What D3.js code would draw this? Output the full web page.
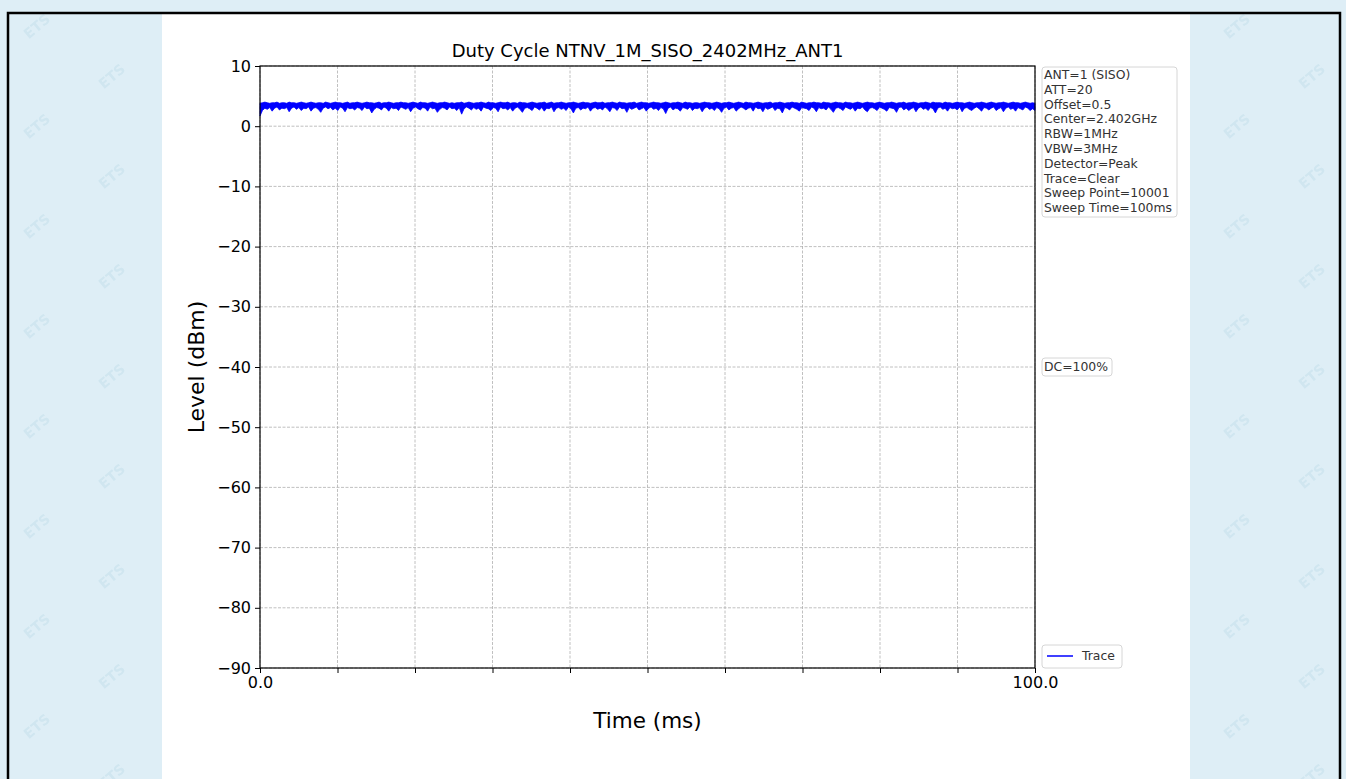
<!DOCTYPE html>
<html>
<head>
<meta charset="utf-8">
<script src="https://cdn.jsdelivr.net/npm/d3@7"></script>
<style>
  body { margin: 0; background: #deeef6; }
  svg { display: block; font-family: "DejaVu Sans", sans-serif; }
</style>
</head>
<body>
<svg></svg>
<script>
/* chart data */
const title = 'Duty Cycle NTNV_1M_SISO_2402MHz_ANT1';
const sweepTime = 100; // ms, whole x range
const yTicks = [10, 0, -10, -20, -30, -40, -50, -60, -70, -80, -90];
const xTicks = [0, 10, 20, 30, 40, 50, 60, 70, 80, 90, 100];
const xTickLabels = { 0: '0.0', 100: '100.0' };
const infoLines = ['ANT=1 (SISO)', 'ATT=20', 'Offset=0.5', 'Center=2.402GHz', 'RBW=1MHz',
  'VBW=3MHz', 'Detector=Peak', 'Trace=Clear', 'Sweep Point=10001', 'Sweep Time=100ms'];
const dcLabel = 'DC=100%';
// trace envelope (dBm): highest and lowest level in each
// of 320 equal slices of the sweep
const traceMax = [
  3.8, 3.9, 4.0, 3.9, 3.8, 3.9, 3.9, 4.0, 3.8, 3.9, 3.9, 3.8, 4.0, 3.9, 3.9, 3.8, 3.9, 4.0, 3.9, 3.8,
  3.9, 4.0, 3.9, 3.8, 3.9, 3.9, 3.8, 4.0, 3.9, 3.8, 3.9, 4.0, 3.9, 3.9, 3.8, 3.9, 4.0, 3.8, 3.9, 3.9,
  4.0, 3.9, 3.8, 3.9, 4.0, 3.9, 3.9, 3.8, 3.9, 4.0, 3.8, 3.9, 3.9, 4.0, 3.9, 3.8, 3.9, 3.9, 4.0, 3.9,
  3.9, 3.8, 3.9, 4.0, 3.9, 3.8, 4.0, 3.9, 3.9, 3.8, 3.9, 4.0, 3.9, 3.8, 3.9, 3.9, 4.0, 3.9, 3.8, 3.9,
  3.8, 3.9, 3.9, 4.0, 3.8, 3.9, 4.0, 3.9, 3.8, 3.9, 3.9, 4.0, 3.9, 3.8, 4.0, 3.9, 3.9, 3.8, 3.9, 4.0,
  3.9, 3.9, 4.0, 3.8, 3.9, 3.9, 3.8, 4.0, 3.9, 3.9, 3.8, 3.9, 4.0, 3.9, 3.8, 3.9, 3.9, 4.0, 3.8, 3.9,
  4.0, 3.8, 3.9, 3.9, 4.0, 3.9, 3.8, 3.9, 3.9, 4.0, 3.9, 3.8, 3.9, 4.0, 3.9, 3.9, 3.8, 3.9, 4.0, 3.9,
  3.9, 4.0, 3.8, 3.9, 3.9, 4.0, 3.9, 3.8, 4.0, 3.9, 3.9, 3.8, 3.9, 3.9, 4.0, 3.8, 3.9, 4.0, 3.9, 3.9,
  3.8, 3.9, 4.0, 3.9, 3.9, 3.8, 3.9, 4.0, 3.9, 3.8, 3.9, 3.9, 4.0, 3.9, 3.8, 4.0, 3.9, 3.9, 3.8, 3.9,
  3.9, 3.8, 3.9, 4.0, 3.9, 3.9, 3.8, 3.9, 4.0, 3.9, 3.8, 3.9, 3.9, 4.0, 3.9, 3.8, 3.9, 4.0, 3.9, 3.8,
  4.0, 3.9, 3.9, 3.8, 3.9, 4.0, 3.9, 3.8, 3.9, 3.9, 4.0, 3.8, 3.9, 3.9, 4.0, 3.9, 3.8, 3.9, 3.9, 4.0,
  3.9, 3.9, 3.8, 4.0, 3.9, 3.8, 3.9, 3.9, 4.0, 3.9, 3.9, 3.8, 4.0, 3.9, 3.9, 3.8, 3.9, 4.0, 3.9, 3.9,
  3.8, 4.0, 3.9, 3.9, 3.8, 3.9, 4.0, 3.9, 3.8, 3.9, 4.0, 3.9, 3.9, 3.8, 3.9, 4.0, 3.9, 3.8, 3.9, 3.9,
  4.0, 3.9, 3.8, 3.9, 3.9, 4.0, 3.8, 3.9, 3.9, 4.0, 3.9, 3.8, 3.9, 3.9, 4.0, 3.9, 3.8, 4.0, 3.9, 3.9,
  3.9, 3.8, 4.0, 3.9, 3.9, 3.8, 3.9, 4.0, 3.9, 3.9, 3.8, 3.9, 4.0, 3.9, 3.8, 3.9, 3.9, 4.0, 3.9, 3.8,
  3.9, 4.0, 3.9, 3.8, 3.9, 3.9, 4.0, 3.9, 3.8, 3.9, 4.0, 3.9, 3.9, 3.8, 3.9, 4.0, 3.9, 3.8, 3.9, 3.8
];
const traceMin = [
  1.7, 2.6, 3.0, 2.8, 3.1, 2.5, 3.0, 3.2, 2.7, 3.0, 2.9, 3.1, 2.4, 3.0, 3.2, 2.8, 3.1, 2.6, 3.0, 2.9,
  3.2, 2.5, 3.0, 3.1, 2.8, 2.3, 3.0, 3.2, 2.9, 3.1, 2.7, 3.0, 2.6, 3.2, 3.0, 2.4, 3.1, 2.9, 3.0, 2.7,
  3.1, 3.0, 2.6, 3.2, 2.9, 3.0, 2.2, 2.8, 3.1, 3.0, 2.7, 3.2, 3.0, 2.5, 3.1, 2.9, 3.0, 2.6, 3.2, 3.0,
  2.8, 3.1, 2.4, 3.0, 3.2, 2.9, 2.7, 3.1, 3.0, 2.5, 3.2, 2.9, 3.0, 2.3, 2.8, 3.1, 3.0, 2.7, 3.2, 2.9,
  3.0, 2.6, 3.1, 2.0, 2.9, 3.2, 3.0, 2.7, 3.1, 2.8, 3.0, 2.5, 3.2, 3.0, 2.9, 2.6, 3.1, 3.0, 2.4, 3.2,
  2.9, 3.0, 2.7, 3.1, 2.5, 3.0, 3.2, 2.8, 2.3, 3.0, 3.1, 2.9, 2.6, 3.2, 3.0, 2.7, 3.1, 2.5, 3.0, 2.9,
  3.2, 2.4, 3.0, 3.1, 2.8, 3.0, 2.6, 3.2, 2.9, 2.2, 3.0, 3.1, 2.7, 3.0, 2.9, 3.2, 2.5, 3.0, 3.1, 2.8,
  3.0, 2.7, 3.2, 2.9, 2.4, 3.1, 3.0, 2.6, 3.2, 2.9, 3.0, 2.3, 3.1, 2.8, 3.0, 3.2, 2.7, 2.9, 3.1, 2.5,
  3.0, 3.2, 2.8, 3.0, 2.6, 3.1, 2.9, 2.1, 3.0, 3.2, 2.7, 3.0, 2.9, 2.5, 3.1, 3.0, 2.8, 3.2, 2.6, 3.0,
  2.9, 3.1, 2.4, 3.0, 3.2, 2.8, 3.0, 2.6, 3.1, 2.9, 2.3, 3.0, 3.2, 2.7, 3.0, 3.1, 2.5, 2.9, 3.2, 3.0,
  2.7, 3.0, 3.1, 2.5, 3.2, 2.9, 3.0, 2.4, 3.1, 2.8, 3.0, 3.2, 2.6, 3.0, 2.9, 2.2, 3.1, 3.0, 2.7, 3.2,
  3.0, 2.8, 2.5, 3.1, 3.0, 2.9, 2.6, 3.2, 3.0, 2.4, 3.1, 2.9, 3.0, 2.7, 3.2, 2.8, 2.3, 3.0, 3.1, 2.9,
  2.6, 3.2, 3.0, 2.8, 3.1, 2.5, 3.0, 2.9, 3.2, 2.7, 2.4, 3.0, 3.1, 2.9, 2.6, 3.2, 3.0, 2.8, 2.5, 3.1,
  3.0, 2.9, 2.3, 3.1, 3.2, 2.7, 3.0, 2.6, 2.9, 3.1, 2.4, 3.0, 3.2, 2.8, 3.0, 2.6, 3.1, 2.9, 2.2, 3.0,
  3.2, 2.8, 3.0, 2.5, 3.1, 2.9, 3.0, 2.7, 3.2, 2.4, 3.0, 3.1, 2.8, 2.6, 3.0, 3.2, 2.9, 2.5, 3.1, 3.0,
  2.7, 3.0, 3.2, 2.6, 2.9, 3.1, 2.4, 3.0, 3.2, 2.8, 3.0, 2.5, 3.1, 2.9, 2.7, 3.2, 3.0, 2.6, 2.9, 2.6
];

const width = 1346, height = 779;
const svg = d3.select('svg').attr('width', width).attr('height', height);

/* page background with faint watermark */
const pat = svg.append('defs').append('pattern')
  .attr('id', 'wm').attr('patternUnits', 'userSpaceOnUse')
  .attr('width', 150).attr('height', 100);
[[40, 30], [115, 80]].forEach(p => {
  pat.append('text')
    .attr('transform', `translate(${p[0]},${p[1]}) rotate(-40)`)
    .attr('text-anchor', 'middle')
    .attr('font-size', 14).attr('font-weight', 'bold')
    .attr('fill', '#d0e6f0')
    .text('ETS');
});
svg.append('rect').attr('width', width).attr('height', height).attr('fill', '#deeef6');
svg.append('rect').attr('width', width).attr('height', height).attr('fill', 'url(#wm)');

// white sheet and black frame
svg.append('rect').attr('x', 162).attr('y', 13).attr('width', 1028).attr('height', height)
  .attr('fill', '#fff');
svg.append('rect').attr('x', 8).attr('y', 13).attr('width', 1332).attr('height', height + 20)
  .attr('fill', 'none').attr('stroke', '#000').attr('stroke-width', 2.5);

/* scales */
const x = d3.scaleLinear().domain([0, sweepTime]).range([260, 1035]);
const y = d3.scaleLinear().domain([-90, 10]).range([668, 66]);

/* grid */
const grid = svg.append('g').attr('stroke', '#b0b0b0').attr('stroke-width', 0.8)
  .attr('stroke-dasharray', '3,1.5');
grid.selectAll('.gx').data(xTicks).enter().append('line')
  .attr('x1', d => x(d)).attr('x2', d => x(d)).attr('y1', y(10)).attr('y2', y(-90));
grid.selectAll('.gy').data(yTicks).enter().append('line')
  .attr('x1', x(0)).attr('x2', x(100)).attr('y1', d => y(d)).attr('y2', d => y(d));

/* trace, drawn as its min/max envelope */
const t = i => i * sweepTime / (traceMin.length - 1);
const area = d3.area()
  .x((d, i) => x(t(i)))
  .y0(d => y(d))
  .y1((d, i) => y(traceMax[i]));
svg.append('path').datum(traceMin)
  .attr('d', area).attr('fill', '#0000ff').attr('stroke', '#0000ff').attr('stroke-width', 0.8);

/* axes */
const minus = d => (d < 0 ? '\u2212' + Math.abs(d) : String(d));
const yAxis = svg.append('g').attr('transform', `translate(${x(0)},0)`)
  .call(d3.axisLeft(y).tickValues(yTicks).tickSize(5).tickPadding(4).tickFormat(minus));
const xAxis = svg.append('g').attr('transform', `translate(0,${y(-90)})`)
  .call(d3.axisBottom(x).tickValues(xTicks).tickSize(5).tickPadding(4)
    .tickFormat(d => xTickLabels[d] || ''));
[yAxis, xAxis].forEach(a => {
  a.select('.domain').remove();
  a.selectAll('text').attr('font-size', 16).attr('fill', '#000')
    .attr('font-family', '"DejaVu Sans", sans-serif');
  a.selectAll('line').attr('stroke', '#000').attr('stroke-width', 1);
});

// frame of plot area
svg.append('rect').attr('x', x(0)).attr('y', y(10))
  .attr('width', x(100) - x(0)).attr('height', y(-90) - y(10))
  .attr('fill', 'none').attr('stroke', '#000').attr('stroke-width', 1.2);

/* titles */
svg.append('text').attr('x', (x(0) + x(100)) / 2).attr('y', 57)
  .attr('text-anchor', 'middle').attr('font-size', 18).text(title);
svg.append('text').attr('x', (x(0) + x(100)) / 2).attr('y', 728)
  .attr('text-anchor', 'middle').attr('font-size', 21.5).text('Time (ms)');
svg.append('text').attr('transform', `translate(204,${(y(10) + y(-90)) / 2}) rotate(-90)`)
  .attr('text-anchor', 'middle').attr('font-size', 22).text('Level (dBm)');

/* info box */
const info = svg.append('g');
info.append('rect').attr('x', 1042).attr('y', 67).attr('width', 135).attr('height', 150)
  .attr('rx', 3).attr('fill', '#fff').attr('stroke', '#d6d6d6');
info.selectAll('text').data(infoLines).enter().append('text')
  .attr('x', 1044).attr('y', (d, i) => 79 + i * 14.8)
  .attr('font-size', 12.4).attr('fill', '#333').text(d => d);

/* duty cycle box */
svg.append('rect').attr('x', 1042).attr('y', 358).attr('width', 70).attr('height', 18)
  .attr('rx', 3).attr('fill', '#fff').attr('stroke', '#d6d6d6');
svg.append('text').attr('x', 1044).attr('y', 371).attr('font-size', 12.4).attr('fill', '#333')
  .text(dcLabel);

/* legend */
svg.append('rect').attr('x', 1042).attr('y', 645).attr('width', 80).attr('height', 23)
  .attr('rx', 3).attr('fill', '#fff').attr('stroke', '#d6d6d6');
svg.append('line').attr('x1', 1047).attr('x2', 1073).attr('y1', 656).attr('y2', 656)
  .attr('stroke', '#0000ff').attr('stroke-width', 1.5);
svg.append('text').attr('x', 1082).attr('y', 660).attr('font-size', 12.4).attr('fill', '#333')
  .text('Trace');
</script>
</body>
</html>
